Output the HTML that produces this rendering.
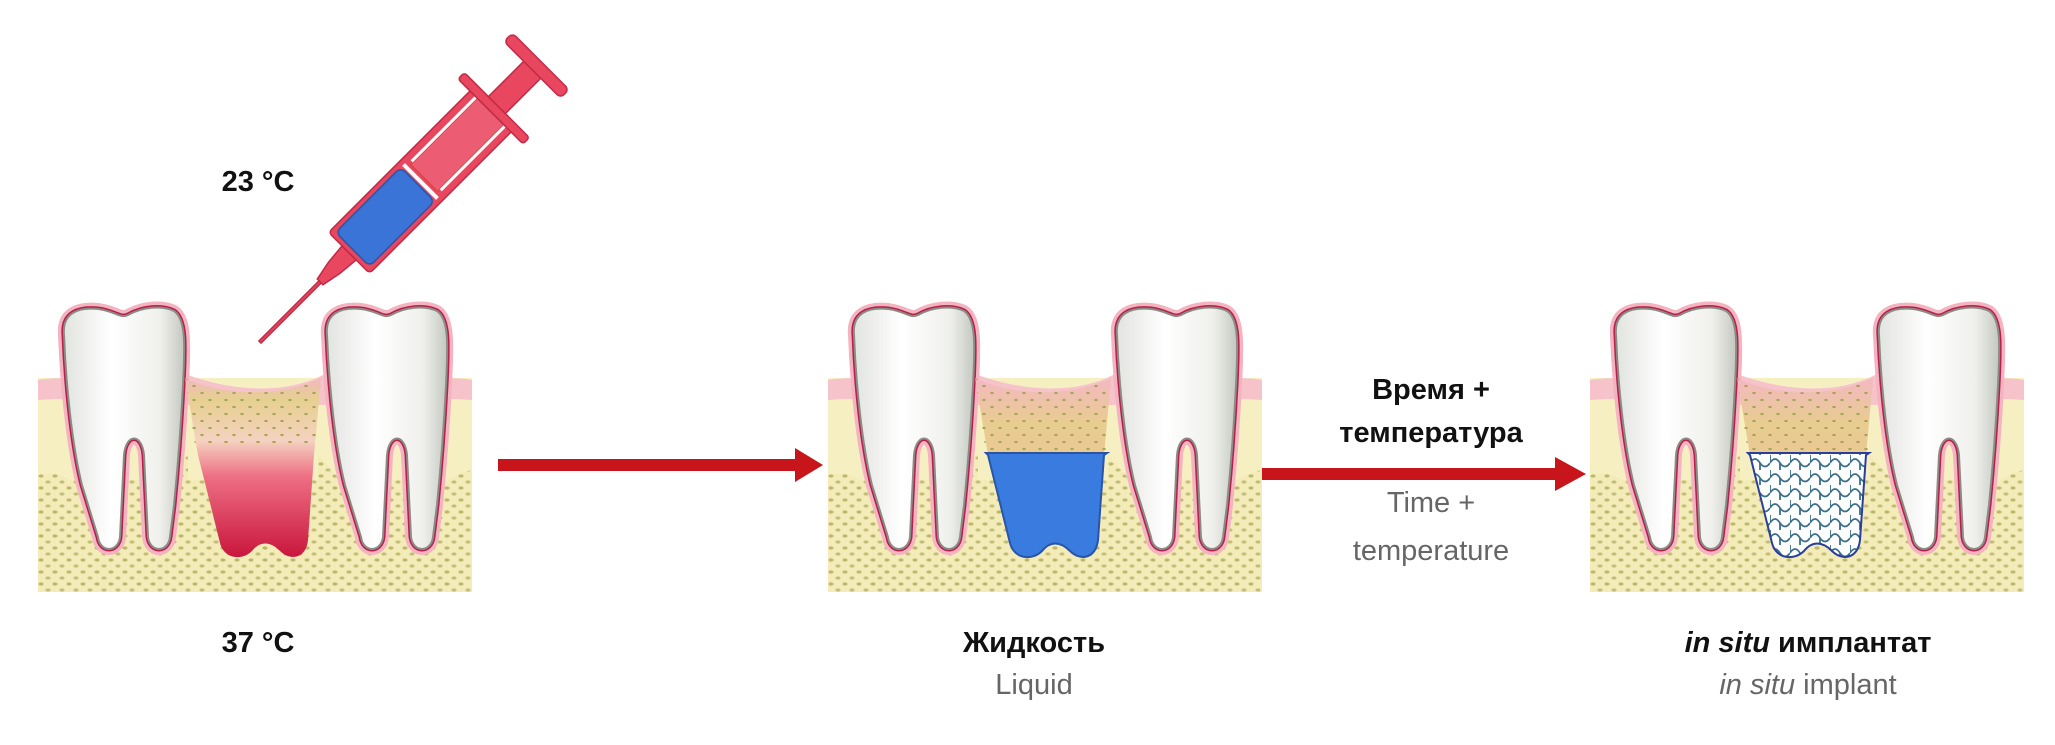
<!DOCTYPE html>
<html><head><meta charset="utf-8"><style>
html,body{margin:0;padding:0;background:#fff;}
body{width:2055px;height:745px;position:relative;overflow:hidden;font-family:"Liberation Sans Narrow","Liberation Sans",sans-serif;}
.t{position:absolute;font-size:29px;font-weight:bold;color:#111;text-align:center;white-space:nowrap;transform:translateX(-50%);}
.g{color:#666;font-weight:normal;}
</style></head><body>
<svg width="2055" height="745" style="position:absolute;left:0;top:0">
<defs>
<pattern id="dots" width="14" height="12" patternUnits="userSpaceOnUse">
<rect width="14" height="12" fill="#f3ecb8"/>
<ellipse cx="3" cy="3" rx="2.6" ry="1.6" fill="#bdb86c"/>
<ellipse cx="10" cy="9" rx="2.6" ry="1.6" fill="#c4bf78"/>
</pattern>
<pattern id="sdots" width="16" height="14" patternUnits="userSpaceOnUse">
<ellipse cx="4" cy="4" rx="1.8" ry="1.1" fill="#a9a45a"/>
<ellipse cx="12" cy="11" rx="1.8" ry="1.1" fill="#a9a45a"/>
</pattern>
<pattern id="mesh" width="20" height="15" patternUnits="userSpaceOnUse">
<rect width="20" height="15" fill="#fff"/>
<path d="M0,8 Q5,0 10,8 Q15,15 20,8 M10,8 L10,15 M0,0 L0,8" fill="none" stroke="#3a6f8a" stroke-width="1.8"/>
</pattern>
<linearGradient id="blood" x1="0" y1="0" x2="0" y2="1">
<stop offset="0" stop-color="#f2b8c0"/><stop offset="0.12" stop-color="#e6d090"/><stop offset="0.35" stop-color="#f4d2c0"/><stop offset="0.55" stop-color="#ee6f84"/><stop offset="1" stop-color="#c9163c"/>
</linearGradient>
<linearGradient id="bonetop" x1="0" y1="0" x2="0" y2="1">
<stop offset="0" stop-color="#f4b8c2"/><stop offset="0.25" stop-color="#e8cc90"/><stop offset="1" stop-color="#f1c29e"/>
</linearGradient>
<linearGradient id="toothg" x1="0" y1="0" x2="1" y2="0">
<stop offset="0" stop-color="#e2e4e0"/><stop offset="0.4" stop-color="#ffffff"/><stop offset="0.8" stop-color="#eff0ec"/><stop offset="1" stop-color="#c4c7c0"/>
</linearGradient>
<path id="tp" d="M4,30 C2,8 18,2 38,4 C55,6 60,14 68,10 C82,2 102,0 114,6 C126,14 125,40 123,80 C121,120 118,160 114,200 L110,232 C108,248 90,248 88,232 L84,150 C82,128 66,128 64,150 L60,232 C58,248 40,248 38,232 L22,180 C12,140 6,80 4,30 Z"/>
<g id="tooth">
<use href="#tp" fill="none" stroke="#f3b3c0" stroke-width="12"/>
<use href="#tp" fill="none" stroke="#b8204a" stroke-width="5"/>
<use href="#tp" fill="url(#toothg)" stroke="#8a8d86" stroke-width="2"/>
</g>
<g id="base">
<rect x="0" y="73" width="434" height="214" fill="#f6efc2"/>
<path d="M0,170 C40,160 50,200 70,230 L100,230 C120,190 140,150 150,150 L150,287 L0,287 Z" fill="url(#dots)"/>
<rect x="0" y="175" width="434" height="112" fill="url(#dots)"/>
<path d="M280,150 C300,170 320,200 340,230 L360,230 C380,190 410,170 434,165 L434,200 L280,200 Z" fill="url(#dots)"/>
<path d="M0,75 C30,70 60,78 100,68 L150,70 C200,88 250,88 285,70 L340,70 C380,78 410,70 434,75 L434,95 C400,92 380,96 330,100 L100,100 C60,96 30,92 0,95 Z" fill="#f6c3ca"/>
<g transform="translate(22,0)"><use href="#tooth"/></g>
<g transform="translate(285,0)"><use href="#tooth"/></g>
</g>
<path id="sock" d="M147,73 C185,92 245,92 283,73 L276,150 L270,235 C268,254 252,256 242,246 C232,236 222,236 214,246 C204,256 186,254 182,238 L160,150 Z"/>
<path id="low" d="M158,148 L279,148 L276,150 L270,235 C268,254 252,256 242,246 C232,236 222,236 214,246 C204,256 186,254 182,238 L160,150 Z"/>
</defs>

<!-- panel 1 -->
<g transform="translate(38,305)">
<use href="#base"/>
<use href="#sock" fill="url(#blood)"/>
<path d="M147,73 C185,92 245,92 283,73 L278,140 L157,140 Z" fill="url(#sdots)"/>
</g>
<!-- panel 2 -->
<g transform="translate(828,305)">
<use href="#base"/>
<use href="#sock" fill="url(#bonetop)"/>
<path d="M147,73 C185,92 245,92 283,73 L279,148 L158,148 Z" fill="url(#sdots)"/>
<use href="#low" fill="#3a7be0" stroke="#2855a8" stroke-width="2"/>
</g>
<!-- panel 3 -->
<g transform="translate(1590,305)">
<use href="#base"/>
<use href="#sock" fill="url(#bonetop)"/>
<path d="M147,73 C185,92 245,92 283,73 L279,148 L158,148 Z" fill="url(#sdots)"/>
<use href="#low" fill="url(#mesh)" stroke="#2a3f9a" stroke-width="2"/>
</g>

<!-- syringe -->
<g transform="translate(260,342) rotate(-45)" fill="#e8475f" stroke="#c02a45" stroke-width="1.5">
<rect x="0" y="-1.5" width="88" height="3"/>
<path d="M85,-4 L105,-8 L126,-10 L126,10 L105,8 L85,4 Z"/>
<rect x="126" y="-29" width="208" height="58" rx="4"/>
<rect x="131" y="-24" width="92" height="48" rx="6" fill="#3a74d6" stroke="#2a55a8"/>
<rect x="225" y="-24" width="4" height="48" fill="#fff" stroke="none"/>
<rect x="232" y="-19" width="100" height="38" fill="#ec5d73" stroke="#d44"/>
<rect x="235" y="-22" width="95" height="3" fill="#fff" stroke="none"/>
<rect x="235" y="19" width="95" height="3" fill="#fff" stroke="none"/>
<rect x="326" y="-46" width="9" height="92" rx="3"/>
<rect x="335" y="-12" width="52" height="24"/>
<rect x="385" y="-40" width="12" height="80" rx="5"/>
</g>

<!-- arrows -->
<rect x="498" y="459" width="300" height="12" fill="#c8141b"/>
<path d="M795,448 L823,465 L795,482 Z" fill="#c8141b"/>
<rect x="1262" y="468" width="296" height="12" fill="#c8141b"/>
<path d="M1555,457 L1586,474 L1555,491 Z" fill="#c8141b"/>
</svg>

<div class="t" style="left:258px;top:166px">23 °C</div>
<div class="t" style="left:258px;top:627px">37 °C</div>
<div class="t" style="left:1034px;top:627px">Жидкость</div>
<div class="t g" style="left:1034px;top:669px">Liquid</div>
<div class="t" style="left:1431px;top:374px">Время +</div>
<div class="t" style="left:1431px;top:417px">температура</div>
<div class="t g" style="left:1431px;top:487px">Time +</div>
<div class="t g" style="left:1431px;top:535px">temperature</div>
<div class="t" style="left:1808px;top:627px"><i>in situ</i> имплантат</div>
<div class="t g" style="left:1808px;top:669px"><i>in situ</i> implant</div>
</body></html>
